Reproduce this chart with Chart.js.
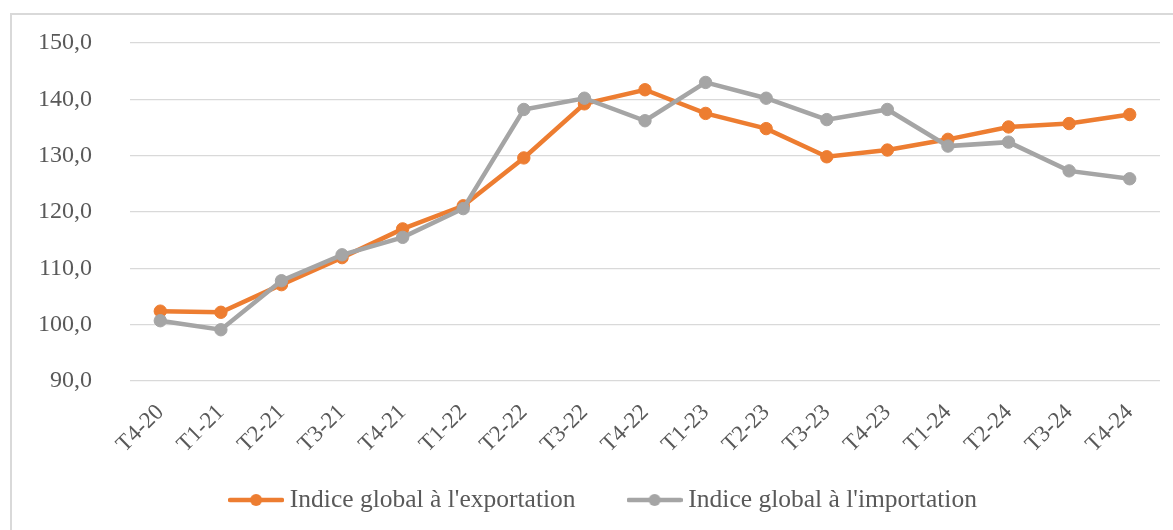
<!DOCTYPE html>
<html>
<head>
<meta charset="utf-8">
<script src="https://cdn.jsdelivr.net/npm/chart.js@4.4.1/dist/chart.umd.min.js"></script>
<style>
  html, body { margin: 0; padding: 0; background: #fff; }
  #wrap { position: relative; width: 1173px; height: 530px; overflow: hidden; }
  #frame { position: absolute; left: 10px; top: 13px; width: 1200px; height: 600px; border: 2px solid #D9D9D9; box-sizing: border-box; }
  #chart { position: absolute; left: 0; top: 0; }
</style>
</head>
<body>
<div id="wrap">
  <div id="frame"></div>
  <canvas id="chart" width="1173" height="530"></canvas>
</div>
<script>
const quarters = ['T4-20', 'T1-21', 'T2-21', 'T3-21', 'T4-21', 'T1-22', 'T2-22', 'T3-22', 'T4-22',
  'T1-23', 'T2-23', 'T3-23', 'T4-23', 'T1-24', 'T2-24', 'T3-24', 'T4-24'];
const exportIndex = [102.4, 102.2, 107.1, 111.9, 117.0, 121.1, 129.6, 139.2, 141.7,
  137.5, 134.8, 129.8, 131.0, 132.9, 135.1, 135.7, 137.3];
const importIndex = [100.7, 99.1, 107.8, 112.4, 115.5, 120.6, 138.2, 140.2, 136.2,
  143.0, 140.2, 136.4, 138.2, 131.7, 132.4, 127.3, 125.9];
const yTicks = [90, 100, 110, 120, 130, 140, 150];

const orange = '#ED7D31';
const grey = '#A5A5A5';
const textColor = '#595959';
const fontFamily = '"Liberation Serif", "Times New Roman", serif';
const legendPadding = 58;
const legendFontSize = 25.5;

// legend marker: short line with a dot in the middle
function legendMarker(color) {
    const c = document.createElement('canvas');
    c.width = 56;
    c.height = 14;
    const g = c.getContext('2d');
    g.strokeStyle = color;
    g.lineWidth = 4.5;
    g.lineCap = 'round';
    g.beginPath();
    g.moveTo(2, 7);
    g.lineTo(54, 7);
    g.stroke();
    g.fillStyle = color;
    g.beginPath();
    g.arc(28, 7, 6, 0, Math.PI * 2);
    g.fill();
    return c;
}
const markers = [legendMarker(orange), legendMarker(grey)];

// put the legend where Excel has it (centred a bit right, row at y=500)
const placeLegend = {
    id: 'placeLegend',
    afterLayout(chart) {
        const lg = chart.legend;
        lg.left += 26;
        lg.right += 26;
        lg.top = 500 - legendPadding - legendFontSize / 2;
        lg.bottom = chart.height;
        lg.height = lg.bottom - lg.top;
    }
};

const ctx = document.getElementById('chart').getContext('2d');
const chart = new Chart(ctx, {
    type: 'line',
    data: {
        labels: quarters,
        datasets: [{
            label: "Indice global à l'exportation",
            data: exportIndex,
            borderColor: orange,
            backgroundColor: orange,
            pointBackgroundColor: orange,
            pointBorderColor: orange,
            borderWidth: 4.5,
            pointRadius: 6.2,
            pointBorderWidth: 1,
            tension: 0,
            order: 1
        }, {
            label: "Indice global à l'importation",
            data: importIndex,
            borderColor: grey,
            backgroundColor: grey,
            pointBackgroundColor: grey,
            pointBorderColor: grey,
            borderWidth: 4.5,
            pointRadius: 6.2,
            pointBorderWidth: 1,
            tension: 0,
            order: 0
        }]
    },
    plugins: [placeLegend],
    options: {
        responsive: false,
        animation: false,
        layout: { padding: { left: 0, right: 13, top: 43, bottom: 29 } },
        plugins: {
            tooltip: { enabled: false },
            legend: {
                position: 'bottom',
                maxHeight: 40,
                labels: {
                    usePointStyle: true,
                    pointStyleWidth: 42,
                    padding: legendPadding,
                    color: textColor,
                    font: { family: fontFamily, size: legendFontSize },
                    generateLabels: (chart) => chart.data.datasets.map((ds, i) => ({
                        text: ds.label,
                        pointStyle: markers[i],
                        fillStyle: ds.borderColor,
                        strokeStyle: ds.borderColor,
                        lineWidth: 0,
                        fontColor: textColor,
                        datasetIndex: i,
                        hidden: false
                    }))
                }
            }
        },
        scales: {
            x: {
                offset: true,
                grid: { display: false },
                border: { display: false },
                ticks: {
                    autoSkip: false,
                    maxRotation: 45,
                    minRotation: 45,
                    padding: 10,
                    color: textColor,
                    font: { family: fontFamily, size: 23 }
                },
                afterFit: (scale) => { scale.height = 80; }
            },
            y: {
                min: 90,
                max: 150,
                afterBuildTicks: (scale) => { scale.ticks = yTicks.map(v => ({ value: v })); },
                grid: { color: '#D9D9D9', lineWidth: 1.3, drawTicks: false },
                border: { display: false },
                ticks: {
                    padding: 38,
                    color: textColor,
                    font: { family: fontFamily, size: 24 },
                    callback: (v) => v.toFixed(1).replace('.', ',')
                },
                afterFit: (scale) => {
                    scale.width = 130;
                    scale.paddingTop = 0;
                    scale.paddingBottom = 0;
                }
            }
        }
    }
});
</script>
</body>
</html>
